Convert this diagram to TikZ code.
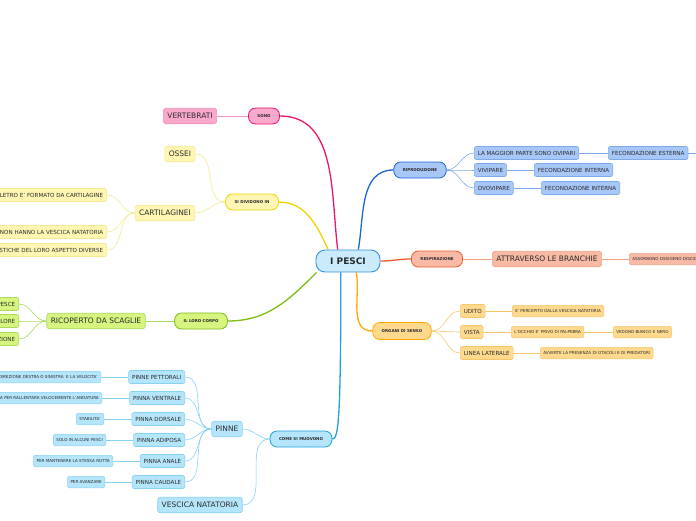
\documentclass[tikz,border=0pt]{standalone}
\usepackage{fontspec}
\setmainfont{DejaVu Sans}
\usetikzlibrary{positioning,calc,backgrounds}
\definecolor{DarkText}{HTML}{2B2B2B}
\definecolor{RootFill}{HTML}{C9EBFB}
\definecolor{RootLine}{HTML}{3A93D5}
\definecolor{PkLine}{HTML}{E8156F}
\definecolor{PkFill}{HTML}{FAA9CD}
\definecolor{PkSoft}{HTML}{F190BC}
\definecolor{YeLine}{HTML}{EDD400}
\definecolor{YeFill}{HTML}{FFF6B3}
\definecolor{YeSoft}{HTML}{F4EA92}
\definecolor{GrLine}{HTML}{7FBA16}
\definecolor{GrFill}{HTML}{D5F57F}
\definecolor{GrSoft}{HTML}{ABD95E}
\definecolor{SkLine}{HTML}{1FA0DF}
\definecolor{SkFill}{HTML}{B5E5FB}
\definecolor{SkSoft}{HTML}{86D2F5}
\definecolor{BlLine}{HTML}{1865D8}
\definecolor{BlFill}{HTML}{A7C7F7}
\definecolor{BlSoft}{HTML}{7EAAEC}
\definecolor{OrLine}{HTML}{EE5A2A}
\definecolor{OrFill}{HTML}{F8BAA5}
\definecolor{OrSoft}{HTML}{EFA387}
\definecolor{AmLine}{HTML}{FFA800}
\definecolor{AmFill}{HTML}{FFDA8E}
\definecolor{AmSoft}{HTML}{F7C56C}

\begin{document}
\begin{tikzpicture}[
    x=1pt, y=-1pt,
    root/.style={rectangle, rounded corners=9pt, draw=RootLine, fill=RootFill, line width=0.9pt,
        minimum width=64pt, minimum height=22pt, font=\fontsize{9}{10}\selectfont\bfseries, text=DarkText},
    branch/.style={rectangle, rounded corners=7pt, line width=0.8pt, minimum height=16pt,
        inner xsep=9pt, font=\fontsize{4}{5}\selectfont\bfseries, text=DarkText},
    big/.style={rectangle, rounded corners=2.5pt, line width=0.6pt, minimum height=15.5pt,
        inner xsep=4pt, font=\fontsize{7.5}{9}\selectfont, text=DarkText},
    leaf/.style={rectangle, rounded corners=2pt, line width=0.6pt, minimum height=13pt,
        inner xsep=3.5pt, font=\fontsize{5.6}{6.5}\selectfont, text=DarkText},
    twig/.style={rectangle, rounded corners=2pt, line width=0.5pt, minimum height=11.5pt,
        inner xsep=3pt, font=\fontsize{4.1}{5}\selectfont, text=DarkText},
    trunk/.style={line width=1.3pt},
    stem/.style={line width=0.6pt},
    pkB/.style={fill=PkFill, draw=PkLine}, pkL/.style={fill=PkFill, draw=PkSoft},
    yeB/.style={fill=YeFill, draw=YeLine}, yeL/.style={fill=YeFill, draw=YeSoft},
    grB/.style={fill=GrFill, draw=GrLine}, grL/.style={fill=GrFill, draw=GrSoft},
    skB/.style={fill=SkFill, draw=SkLine}, skL/.style={fill=SkFill, draw=SkSoft},
    blB/.style={fill=BlFill, draw=BlLine}, blL/.style={fill=BlFill, draw=BlSoft},
    orB/.style={fill=OrFill, draw=OrLine}, orL/.style={fill=OrFill, draw=OrSoft},
    amB/.style={fill=AmFill, draw=AmLine}, amL/.style={fill=AmFill, draw=AmSoft}
]
\useasboundingbox (0,0) rectangle (696,520);

\node[root] (pesci) at (348,261) {I PESCI};

\node[branch, pkB] (sono) at (264,116) {SONO};
\node[big, pkL] (vertebrati) at (190,116) {VERTEBRATI};

\node[branch, yeB] (dividono) at (252,202) {SI DIVIDONO IN};
\node[big, yeL] (ossei) at (180,154) {OSSEI};
\node[big, yeL] (cartilaginei) at (165,213) {CARTILAGINEI};
\node[leaf, yeL, anchor=east] (scheletro) at (107,195) {IL LORO SCHELETRO E' FORMATO DA CARTILAGINE};
\node[leaf, yeL, anchor=east] (novescica) at (107,232) {ALCUNI NON HANNO LA VESCICA NATATORIA};
\node[leaf, yeL, anchor=east] (aspetto) at (107,250) {LE CARATTERISTICHE DEL LORO ASPETTO DIVERSE};

\node[branch, grB] (corpo) at (201,321) {IL LORO CORPO};
\node[big, grL] (scaglie) at (96,321) {RICOPERTO DA SCAGLIE};
\node[leaf, grL, anchor=east] (pesce) at (19,304) {PROTEGGONO IL PESCE};
\node[leaf, grL, anchor=east] (colore) at (19,321) {DI VARIO COLORE};
\node[leaf, grL, anchor=east] (protezione) at (19,339) {HANNO FUNZIONE DI PROTEZIONE};

\node[branch, skB] (muovono) at (301,439) {COME SI MUOVONO};
\node[big, skL] (pinne) at (227,429) {PINNE};
\node[big, skL] (vescica) at (200,505) {VESCICA NATATORIA};
\node[leaf, skL, anchor=east] (pettorali) at (185,377) {PINNE PETTORALI};
\node[leaf, skL, anchor=east] (ventrale) at (185,398) {PINNA VENTRALE};
\node[leaf, skL, anchor=east] (dorsale) at (185,419) {PINNA DORSALE};
\node[leaf, skL, anchor=east] (adiposa) at (185,440) {PINNA ADIPOSA};
\node[leaf, skL, anchor=east] (anale) at (185,461) {PINNA ANALE};
\node[leaf, skL, anchor=east] (caudale) at (185,482) {PINNA CAUDALE};
\node[twig, skL, anchor=east] (direzione) at (101,377) {DANNO LA DIREZIONE DESTRA O SINISTRA\ \ E LA VELOCITA'};
\node[twig, skL, anchor=east] (frenare) at (102,398) {USATA PER RALLENTARE VELOCEMENTE L'ANDATURA};
\node[twig, skL, anchor=east] (stabilita) at (104,419) {STABILITA'};
\node[twig, skL, anchor=east] (alcuni) at (106,440) {SOLO IN ALCUNI PESCI};
\node[twig, skL, anchor=east] (rotta) at (113,461) {PER MANTENERE LA STESSA ROTTA};
\node[twig, skL, anchor=east] (avanzare) at (105,482) {PER AVANZARE};

\node[branch, blB] (riproduzione) at (420,170) {RIPRODUZIONE};
\node[leaf, blL, anchor=west] (ovipari) at (474,153) {LA MAGGIOR PARTE SONO OVIPARI};
\node[leaf, blL, anchor=west] (vivipare) at (474,170) {VIVIPARE};
\node[leaf, blL, anchor=west] (ovovipare) at (474,188) {OVOVIPARE};
\node[leaf, blL, anchor=west] (esterna) at (608,153) {FECONDAZIONE ESTERNA};
\node[leaf, blL, anchor=west] (internaA) at (534,170) {FECONDAZIONE INTERNA};
\node[leaf, blL, anchor=west] (internaB) at (541,188) {FECONDAZIONE INTERNA};
\coordinate (esterna-out) at (720,153);

\node[branch, orB] (respirazione) at (437,259) {RESPIRAZIONE};
\node[big, orL] (branchie) at (547,259) {ATTRAVERSO LE BRANCHIE};
\node[twig, orL, anchor=west] (ossigeno) at (629,259) {ASSORBONO OSSIGENO DISCIOLTO NELL'ACQUA};

\node[branch, amB, minimum height=17pt] (senso) at (402,331) {ORGANI DI SENSO};
\node[leaf, amL, anchor=west] (udito) at (460,311) {UDITO};
\node[leaf, amL, anchor=west] (vista) at (460,332) {VISTA};
\node[leaf, amL, anchor=west] (linea) at (460,353) {LINEA LATERALE};
\node[twig, amL, anchor=west] (percepito) at (512,311) {E' PERCEPITO DALLA VESCICA NATATORIA};
\node[twig, amL, anchor=west] (palpebra) at (511,332) {L'OCCHIO E' PRIVO DI PALPEBRA};
\node[twig, amL, anchor=west] (bianconero) at (613,332) {VEDONO BIANCO E NERO};
\node[twig, amL, anchor=west] (ostacoli) at (540,353) {AVVERTE LA PRESENZA DI OTACOLI E DI PREDATORI};

\begin{scope}[on background layer]
\draw[trunk, PkLine] (pesci.132) to[out=97,in=0] (sono.east);
\draw[trunk, YeLine] (pesci.150) to[out=115,in=0] (dividono.east);
\draw[trunk, GrLine] (pesci.200) to[out=225,in=0] (corpo.east);
\draw[trunk, SkLine] (pesci.238) .. controls +(0,150) and +(6,0) .. (muovono.east);
\draw[trunk, BlLine] (pesci.48) to[out=80,in=180] (riproduzione.west);
\draw[trunk, OrLine] (pesci.east) to[out=0,in=180] (respirazione.west);
\draw[trunk, AmLine] (pesci.306) to[out=-80,in=180] (senso.west);

\draw[stem, PkSoft] (sono.west) -- (vertebrati.east);
\draw[stem, YeSoft] (dividono.west) to[out=180,in=0] (ossei.east);
\draw[stem, YeSoft] (dividono.west) to[out=180,in=0] (cartilaginei.east);
\draw[stem, YeSoft] (cartilaginei.west) to[out=180,in=0] (scheletro.east);
\draw[stem, YeSoft] (cartilaginei.west) to[out=180,in=0] (novescica.east);
\draw[stem, YeSoft] (cartilaginei.west) to[out=180,in=0] (aspetto.east);

\draw[stem, GrSoft] (corpo.west) -- (scaglie.east);
\draw[stem, GrSoft] (scaglie.west) to[out=180,in=0] (pesce.east);
\draw[stem, GrSoft] (scaglie.west) to[out=180,in=0] (colore.east);
\draw[stem, GrSoft] (scaglie.west) to[out=180,in=0] (protezione.east);

\draw[stem, SkSoft] (muovono.west) to[out=180,in=0] (pinne.east);
\draw[stem, SkSoft] (muovono.west) to[out=180,in=0] (vescica.east);
\draw[stem, SkSoft] (pinne.west) to[out=180,in=0] (pettorali.east);
\draw[stem, SkSoft] (pinne.west) to[out=180,in=0] (ventrale.east);
\draw[stem, SkSoft] (pinne.west) to[out=180,in=0] (dorsale.east);
\draw[stem, SkSoft] (pinne.west) to[out=180,in=0] (adiposa.east);
\draw[stem, SkSoft] (pinne.west) to[out=180,in=0] (anale.east);
\draw[stem, SkSoft] (pinne.west) to[out=180,in=0] (caudale.east);
\draw[stem, SkSoft] (pettorali.west) -- (direzione.east);
\draw[stem, SkSoft] (ventrale.west) -- (frenare.east);
\draw[stem, SkSoft] (dorsale.west) -- (stabilita.east);
\draw[stem, SkSoft] (adiposa.west) -- (alcuni.east);
\draw[stem, SkSoft] (anale.west) -- (rotta.east);
\draw[stem, SkSoft] (caudale.west) -- (avanzare.east);

\draw[stem, BlSoft] (riproduzione.east) to[out=0,in=180] (ovipari.west);
\draw[stem, BlSoft] (riproduzione.east) to[out=0,in=180] (vivipare.west);
\draw[stem, BlSoft] (riproduzione.east) to[out=0,in=180] (ovovipare.west);
\draw[stem, BlSoft] (ovipari.east) -- (esterna.west);
\draw[stem, BlSoft] (vivipare.east) -- (internaA.west);
\draw[stem, BlSoft] (ovovipare.east) -- (internaB.west);
\draw[stem, BlSoft] (esterna.east) -- (esterna-out);

\draw[stem, OrSoft] (respirazione.east) -- (branchie.west);
\draw[stem, OrSoft] (branchie.east) -- (ossigeno.west);

\draw[stem, AmSoft] (senso.east) to[out=0,in=180] (udito.west);
\draw[stem, AmSoft] (senso.east) to[out=0,in=180] (vista.west);
\draw[stem, AmSoft] (senso.east) to[out=0,in=180] (linea.west);
\draw[stem, AmSoft] (udito.east) -- (percepito.west);
\draw[stem, AmSoft] (vista.east) -- (palpebra.west);
\draw[stem, AmSoft] (palpebra.east) -- (bianconero.west);
\draw[stem, AmSoft] (linea.east) -- (ostacoli.west);
\end{scope}
\end{tikzpicture}
\end{document}
